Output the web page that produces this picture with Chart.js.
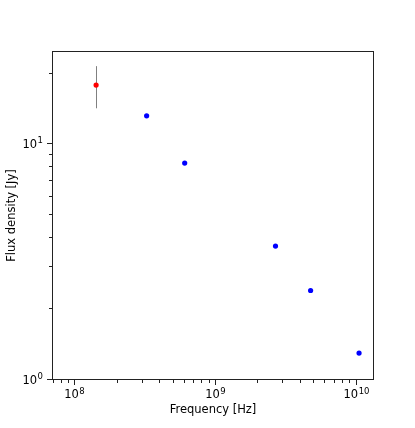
<!DOCTYPE html>
<html>
<head>
<meta charset="utf-8">
<script src="https://cdn.jsdelivr.net/npm/chart.js@4"></script>
<style>
  body { margin: 0; background: #fff; }
  #sed { display: block; }
</style>
</head>
<body>
<canvas id="sed" width="415" height="428"></canvas>
<script>
// low frequency point (with error bar) and the other measurements, in Hz and Jy
const lowFreq = [1.425e8];
const lowFlux = [17.7];
const lowFluxErr = [3.6];

const freqs = [3.26e8, 6.08e8, 2.69e9, 4.78e9, 1.057e10];
const fluxes = [13.1, 8.25, 3.66, 2.37, 1.285];

const xRange = [6.92e7, 1.35e10];
const yRange = [0.987, 24.7];

function isDecade(v) {
    const e = Math.log10(v);
    return Math.abs(e - Math.round(e)) < 1e-9;
}

// all 1..9 x 10^n values inside the axis range
function logTicks(scale) {
    const ticks = [];
    const lo = Math.floor(Math.log10(scale.min));
    const hi = Math.ceil(Math.log10(scale.max));
    for (let e = lo; e <= hi; e++) {
        for (let m = 1; m < 10; m++) {
            const v = m * Math.pow(10, e);
            if (v >= scale.min && v <= scale.max) ticks.push({ value: v, major: m === 1 });
        }
    }
    scale.ticks = ticks;
}

const baseFont = '11.5px "DejaVu Sans"';
const expFont = '8.5px "DejaVu Sans"';

// draws "10" with a raised exponent, anchored by (x, baseline)
function powerLabel(ctx, v, x, baseline, align) {
    const exp = String(Math.round(Math.log10(v)));
    ctx.font = baseFont;
    const wb = ctx.measureText('10').width;
    ctx.font = expFont;
    const we = ctx.measureText(exp).width;
    const w = wb + we + 0.5;
    const x0 = align === 'center' ? x - w / 2 : x - w;
    ctx.textAlign = 'left';
    ctx.textBaseline = 'alphabetic';
    ctx.font = baseFont;
    ctx.fillText('10', x0, baseline);
    ctx.font = expFont;
    ctx.fillText(exp, x0 + wb + 0.5, baseline - 4.5);
}

const frameAndTicks = {
    id: 'frameAndTicks',
    afterDraw(chart) {
        const ctx = chart.ctx;
        const a = chart.chartArea;
        ctx.save();
        ctx.strokeStyle = '#222';
        ctx.fillStyle = '#000';
        ctx.lineWidth = 1;
        ctx.strokeRect(a.left + 0.5, a.top + 0.5, a.right - a.left - 1, a.bottom - a.top - 1);

        const xs = chart.scales.x;
        xs.ticks.forEach(t => {
            const px = Math.round(xs.getPixelForValue(t.value)) + 0.5;
            const major = isDecade(t.value);
            ctx.beginPath();
            ctx.moveTo(px, a.bottom);
            ctx.lineTo(px, a.bottom + (major ? 5 : 3));
            ctx.stroke();
            if (major) powerLabel(ctx, t.value, px, a.bottom + 18, 'center');
        });
        const ys = chart.scales.y;
        ys.ticks.forEach(t => {
            const py = Math.round(ys.getPixelForValue(t.value)) + 0.5;
            const major = isDecade(t.value);
            ctx.beginPath();
            ctx.moveTo(a.left, py);
            ctx.lineTo(a.left - (major ? 5 : 3), py);
            ctx.stroke();
            if (major) powerLabel(ctx, t.value, a.left - 9, py + 4.2, 'right');
        });
        ctx.restore();
    }
};

const errorBars = {
    id: 'errorBars',
    beforeDatasetsDraw(chart) {
        const ctx = chart.ctx;
        const xs = chart.scales.x, ys = chart.scales.y;
        ctx.save();
        ctx.strokeStyle = '#808080';
        ctx.lineWidth = 1;
        lowFreq.forEach((f, i) => {
            const px = Math.round(xs.getPixelForValue(f)) + 0.5;
            ctx.beginPath();
            ctx.moveTo(px, ys.getPixelForValue(lowFlux[i] - lowFluxErr[i]));
            ctx.lineTo(px, ys.getPixelForValue(lowFlux[i] + lowFluxErr[i]));
            ctx.stroke();
        });
        ctx.restore();
    }
};

const titleFont = { family: 'DejaVu Sans', size: 11.5 };

new Chart(document.getElementById('sed').getContext('2d'), {
    type: 'scatter',
    data: {
        datasets: [
            {
                data: lowFreq.map((f, i) => ({ x: f, y: lowFlux[i] })),
                backgroundColor: '#ff0000',
                borderWidth: 0,
                pointRadius: 2.6
            },
            {
                data: freqs.map((f, i) => ({ x: f, y: fluxes[i] })),
                backgroundColor: '#0000ff',
                borderWidth: 0,
                pointRadius: 2.6
            }
        ]
    },
    options: {
        responsive: false,
        animation: false,
        layout: { padding: { left: 0, top: 51, right: 41, bottom: 0 } },
        plugins: { legend: { display: false }, tooltip: { enabled: false } },
        scales: {
            x: {
                type: 'logarithmic',
                min: xRange[0],
                max: xRange[1],
                afterBuildTicks: logTicks,
                afterFit: s => { s.height = 48; },
                grid: { display: false, drawTicks: false },
                border: { display: false },
                ticks: { display: false },
                title: {
                    display: true,
                    text: 'Frequency [Hz]',
                    color: '#000',
                    font: titleFont,
                    padding: { top: 0, bottom: 11 }
                }
            },
            y: {
                type: 'logarithmic',
                min: yRange[0],
                max: yRange[1],
                afterBuildTicks: logTicks,
                afterFit: s => { s.width = 52; },
                grid: { display: false, drawTicks: false },
                border: { display: false },
                ticks: { display: false },
                title: {
                    display: true,
                    text: 'Flux density [Jy]',
                    color: '#000',
                    font: titleFont,
                    padding: { top: 5, bottom: 0 }
                }
            }
        }
    },
    plugins: [errorBars, frameAndTicks]
});
</script>
</body>
</html>
